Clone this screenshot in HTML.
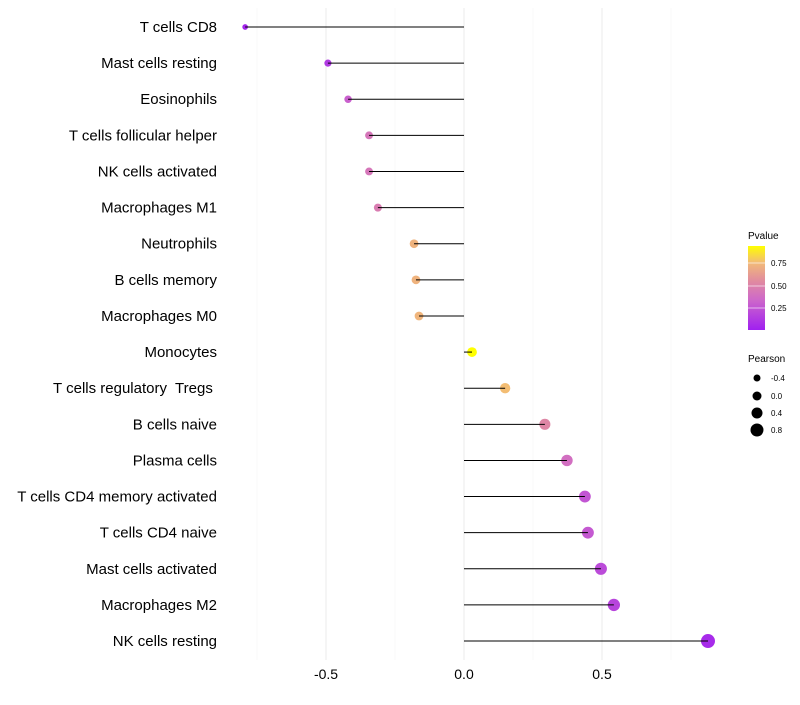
<!DOCTYPE html>
<html><head><meta charset="utf-8"><style>
body{margin:0;background:#fff;font-family:"Liberation Sans",sans-serif;}
svg text{font-family:"Liberation Sans",sans-serif;white-space:pre;}
</style></head><body>
<svg id="chart" width="800" height="700" xmlns="http://www.w3.org/2000/svg">
<defs><linearGradient id="pg" x1="0" y1="1" x2="0" y2="0">
<stop offset="0" stop-color="#a020f0"/><stop offset="0.37" stop-color="#cf6ac8"/><stop offset="0.58" stop-color="#e08aa0"/><stop offset="0.8" stop-color="#f2ba78"/><stop offset="1" stop-color="#ffff00"/>
</linearGradient></defs>
<g id="grid"></g><g id="marks"></g><g id="labels"></g>
<g>
<text x="748" y="239" font-size="10" fill="#000">Pvalue</text>
<rect x="748" y="246" width="17" height="84" fill="url(#pg)"/>
<line x1="748" y1="263" x2="765" y2="263" stroke="#fff" stroke-opacity="0.6"/>
<line x1="748" y1="286" x2="765" y2="286" stroke="#fff" stroke-opacity="0.6"/>
<line x1="748" y1="308" x2="765" y2="308" stroke="#fff" stroke-opacity="0.6"/>
<text x="771" y="266" font-size="8">0.75</text>
<text x="771" y="289" font-size="8">0.50</text>
<text x="771" y="311" font-size="8">0.25</text>
</g>
<g>
<text x="748" y="362" font-size="10">Pearson</text>
<circle cx="757" cy="378" r="3.5"/><text x="771" y="381" font-size="8">-0.4</text>
<circle cx="757" cy="396" r="4.5"/><text x="771" y="399" font-size="8">0.0</text>
<circle cx="757" cy="413" r="5.5"/><text x="771" y="416" font-size="8">0.4</text>
<circle cx="757" cy="430" r="6.5"/><text x="771" y="433" font-size="8">0.8</text>
</g>
</svg>
<script>
const categories=["T cells CD8","Mast cells resting","Eosinophils","T cells follicular helper","NK cells activated","Macrophages M1","Neutrophils","B cells memory","Macrophages M0","Monocytes","T cells regulatory  Tregs ","B cells naive","Plasma cells","T cells CD4 memory activated","T cells CD4 naive","Mast cells activated","Macrophages M2","NK cells resting"];
const pearson=[-0.793,-0.493,-0.42,-0.344,-0.344,-0.312,-0.181,-0.174,-0.163,0.029,0.149,0.293,0.373,0.438,0.449,0.496,0.543,0.884];
const pvalues=[0.03,0.12,0.3,0.42,0.42,0.46,0.72,0.72,0.73,0.94,0.76,0.52,0.38,0.25,0.27,0.2,0.17,0.05];
const xTicks=[-0.5,0,0.5];
const xTickLabels=["-0.5","0.0","0.5"];
const NS="http://www.w3.org/2000/svg";
const x=v=>464+v*276;
const y=i=>27+i*36.12;
const rad=v=>4.8+2.5*v;
const stops=[[0,[160,32,240]],[0.37,[207,106,200]],[0.58,[224,138,160]],[0.8,[242,186,120]],[1,[255,255,0]]];
function col(p){let t=Math.max(0,Math.min(1,p/0.94));for(let i=0;i<stops.length-1;i++){const a=stops[i],b=stops[i+1];if(t<=b[0]){const f=(t-a[0])/(b[0]-a[0]);return `rgb(${a[1].map((c,k)=>Math.round(c+(b[1][k]-c)*f)).join(',')})`;}}return 'rgb(255,255,0)';}
function mk(tag,a,parent){const e=document.createElementNS(NS,tag);for(const k in a)e.setAttribute(k,a[k]);parent.appendChild(e);return e;}
const grid=document.getElementById('grid'),marks=document.getElementById('marks'),labels=document.getElementById('labels');
[-0.75,-0.25,0.25,0.75].forEach(v=>{const l=mk('line',{x1:x(v),x2:x(v),y1:8,y2:660,stroke:'#f4f4f4','stroke-width':0.6},grid);

});
xTicks.forEach((v,i)=>{const l=mk('line',{x1:x(v),x2:x(v),y1:8,y2:660,stroke:'#ebebeb','stroke-width':1},grid);


const t=mk('text',{x:x(v),y:679,'font-size':14,'text-anchor':'middle',fill:'#000'},labels);t.textContent=xTickLabels[i];

});
categories.forEach((c,i)=>{
const t=mk('text',{x:217,y:y(i)+5,'font-size':15,'text-anchor':'end',fill:'#000'},labels);t.textContent=c;


const d=mk('circle',{cx:x(pearson[i]),cy:y(i),r:rad(pearson[i]),fill:col(pvalues[i])},marks);


const l=mk('line',{x1:x(0),x2:x(pearson[i]),y1:y(i),y2:y(i),stroke:'#000','stroke-width':1},marks);


});
</script>
</body></html>
